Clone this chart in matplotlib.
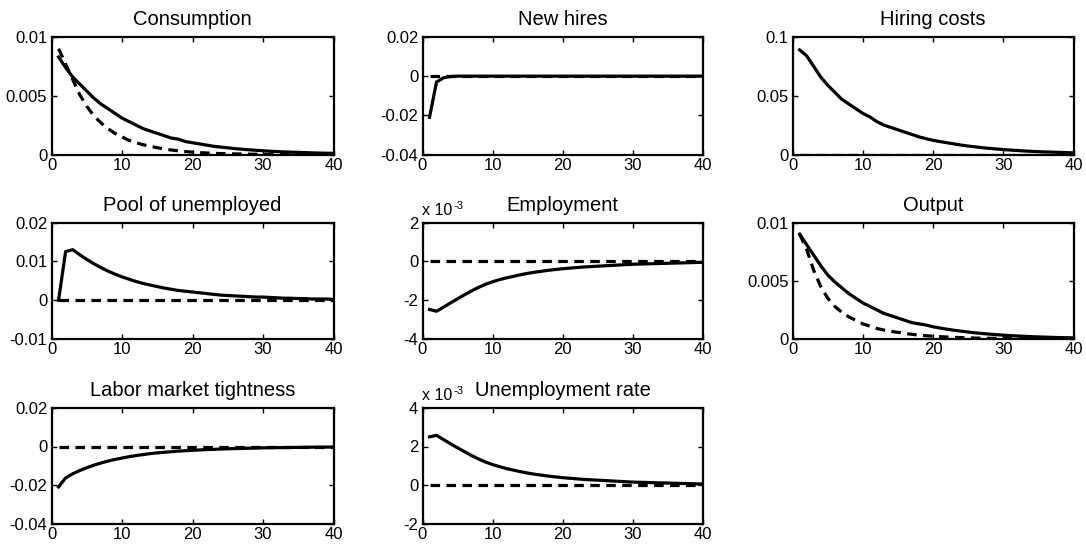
import numpy as np
import matplotlib
matplotlib.use("Agg")
import matplotlib.pyplot as plt

plt.rcParams['font.family'] = ['Liberation Sans', 'DejaVu Sans']
plt.rcParams['axes.unicode_minus'] = False
plt.rcParams['mathtext.default'] = 'regular'

periods = list(range(1, 41))

titles = ["Consumption", "New hires", "Hiring costs",
          "Pool of unemployed", "Employment", "Output",
          "Labor market tightness", "Unemployment rate"]

consumption_solid = [0.0083, 0.0074, 0.0066, 0.0060, 0.0054, 0.0048, 0.0043, 0.0039, 0.0035, 0.0031,
                     0.0028, 0.0025, 0.0022, 0.0020, 0.0018, 0.0016, 0.0014, 0.0013, 0.0011, 0.0010,
                     0.0009, 0.0008, 0.0007, 0.00063, 0.00057, 0.0005, 0.00045, 0.0004, 0.00036, 0.00032,
                     0.00028, 0.00025, 0.00022, 0.0002, 0.00018, 0.00016, 0.00014, 0.00012, 0.00011, 0.0001]
consumption_dashed = [0.009, 0.0077, 0.0064, 0.0051, 0.0041, 0.0033, 0.0027, 0.0022, 0.0018, 0.0015,
                      0.0012, 0.001, 0.00083, 0.0007, 0.00058, 0.00047, 0.00038, 0.00031, 0.00025, 0.0002,
                      0.00016, 0.00013, 0.0001, 0.00008, 0.00006, 0.00005, 0.00004, 0.00003, 0.00002, 0.00002,
                      0.00001, 0.00001, 0.00001, 0.00001, 0.00001, 0.00001, 0.0, 0.0, 0.0, 0.0]

new_hires_solid = [-0.021, -0.003, -0.0008, -0.0002] + [0.0] * 36
new_hires_dashed = [0.0] * 40

hiring_costs_solid = [0.089, 0.084, 0.075, 0.066, 0.059, 0.053, 0.047, 0.043, 0.039, 0.035,
                      0.032, 0.028, 0.025, 0.023, 0.021, 0.019, 0.017, 0.015, 0.0135, 0.012,
                      0.011, 0.010, 0.009, 0.008, 0.0072, 0.0065, 0.0058, 0.0052, 0.0047, 0.0042,
                      0.0038, 0.0034, 0.003, 0.0027, 0.0024, 0.0022, 0.002, 0.0018, 0.0016, 0.0014]
hiring_costs_dashed = [0.0] * 40

pool_solid = [0.0, 0.0125, 0.013, 0.0117, 0.0105, 0.0094, 0.0084, 0.0075, 0.0067, 0.006,
              0.0054, 0.0048, 0.0043, 0.0039, 0.0035, 0.0031, 0.0028, 0.0025, 0.0023, 0.0021,
              0.0019, 0.0017, 0.0015, 0.0013, 0.0012, 0.0011, 0.001, 0.0009, 0.0008, 0.0008,
              0.0007, 0.0006, 0.0005, 0.0005, 0.0004, 0.0004, 0.0003, 0.0003, 0.0003, 0.0002]
pool_dashed = [0.0] * 40

employment_solid = [-2.48e-3, -2.57e-3, -2.36e-3, -2.14e-3, -1.93e-3, -1.72e-3, -1.52e-3, -1.34e-3, -1.18e-3, -1.05e-3,
                    -0.94e-3, -0.85e-3, -0.77e-3, -0.69e-3, -0.62e-3, -0.56e-3, -0.51e-3, -0.46e-3, -0.42e-3, -0.38e-3,
                    -0.35e-3, -0.32e-3, -0.29e-3, -0.27e-3, -0.25e-3, -0.23e-3, -0.21e-3, -0.19e-3, -0.17e-3, -0.15e-3,
                    -0.14e-3, -0.13e-3, -0.12e-3, -0.11e-3, -0.10e-3, -0.09e-3, -0.08e-3, -0.07e-3, -0.06e-3, -0.05e-3]
employment_dashed = [0.0] * 40

output_solid = [0.009, 0.0081, 0.0072, 0.0063, 0.0055, 0.0049, 0.0044, 0.0039, 0.0035, 0.0031,
                0.0028, 0.0025, 0.0022, 0.002, 0.0018, 0.0016, 0.0014, 0.0013, 0.0012, 0.00105,
                0.00094, 0.00084, 0.00075, 0.00067, 0.0006, 0.00053, 0.00047, 0.00042, 0.00037, 0.00033,
                0.00029, 0.00026, 0.00023, 0.0002, 0.00018, 0.00016, 0.00014, 0.00012, 0.00011, 0.0001]
output_dashed = [0.009, 0.0077, 0.0059, 0.0045, 0.0035, 0.0028, 0.0023, 0.0019, 0.0016, 0.0013,
                 0.0011, 0.0009, 0.00077, 0.00066, 0.00057, 0.00048, 0.0004, 0.00034, 0.00028, 0.00024,
                 0.0002, 0.00017, 0.00014, 0.00012, 0.0001, 0.00008, 0.00007, 0.00006, 0.00005, 0.00004,
                 0.00003, 0.00003, 0.00002, 0.00002, 0.00002, 0.00001, 0.00001, 0.00001, 0.00001, 0.00001]

tightness_solid = [-0.021, -0.0163, -0.0142, -0.0125, -0.011, -0.0097, -0.0086, -0.0076, -0.0067, -0.006,
                   -0.0053, -0.0047, -0.0042, -0.0037, -0.0033, -0.003, -0.0027, -0.0024, -0.0022, -0.002,
                   -0.0018, -0.0016, -0.0015, -0.0013, -0.0012, -0.0011, -0.001, -0.0009, -0.0008, -0.0007,
                   -0.00065, -0.0006, -0.00055, -0.0005, -0.00045, -0.0004, -0.00035, -0.0003, -0.0003, -0.00025]
tightness_dashed = [0.0] * 40

unemp_rate_solid = [2.5e-3, 2.58e-3, 2.36e-3, 2.14e-3, 1.93e-3, 1.73e-3, 1.53e-3, 1.35e-3, 1.19e-3, 1.06e-3,
                    0.95e-3, 0.85e-3, 0.77e-3, 0.69e-3, 0.62e-3, 0.56e-3, 0.51e-3, 0.46e-3, 0.42e-3, 0.38e-3,
                    0.35e-3, 0.32e-3, 0.29e-3, 0.27e-3, 0.25e-3, 0.23e-3, 0.21e-3, 0.19e-3, 0.17e-3, 0.15e-3,
                    0.14e-3, 0.13e-3, 0.12e-3, 0.11e-3, 0.10e-3, 0.09e-3, 0.08e-3, 0.07e-3, 0.06e-3, 0.05e-3]
unemp_rate_dashed = [0.0] * 40

solid_series = [consumption_solid, new_hires_solid, hiring_costs_solid, pool_solid,
                employment_solid, output_solid, tightness_solid, unemp_rate_solid]
dashed_series = [consumption_dashed, new_hires_dashed, hiring_costs_dashed, pool_dashed,
                 employment_dashed, output_dashed, tightness_dashed, unemp_rate_dashed]

x_ticks = [0, 10, 20, 30, 40]
y_ticks = [[0, 0.005, 0.01], [-0.04, -0.02, 0, 0.02], [0, 0.05, 0.1],
           [-0.01, 0, 0.01, 0.02], [-4, -2, 0, 2], [0, 0.005, 0.01],
           [-0.04, -0.02, 0, 0.02], [-2, 0, 2, 4]]
scale_factors = [1, 1, 1, 1, 1e-3, 1, 1, 1e-3]

W, H = 1086, 551
fig = plt.figure(figsize=(W / 100, H / 100), dpi=100)

cols = [(51.5, 333.5), (422.5, 703.0), (792.6, 1073.5)]
rows = [(37.0, 154.5), (222.5, 339.0), (408.0, 523.5)]

for i in range(8):
    r, c = divmod(i, 3)
    x0, x1 = cols[c]
    y0, y1 = rows[r]
    ax = fig.add_axes([x0 / W, 1 - y1 / H, (x1 - x0) / W, (y1 - y0) / H])
    sf = scale_factors[i]
    ax.plot(periods, np.array(solid_series[i]) / sf, color='black', lw=2.3,
            solid_joinstyle='round')
    ax.plot(periods, np.array(dashed_series[i]) / sf, color='black', lw=2.3,
            linestyle=(0, (3, 2)))
    ax.set_xlim(0, 40)
    yt = y_ticks[i]
    ax.set_ylim(yt[0], yt[-1])
    ax.set_xticks(x_ticks)
    ax.set_yticks(yt)
    ax.set_xticklabels([f"{v:g}" for v in x_ticks])
    ax.set_yticklabels([f"{v:g}" for v in yt])
    ax.tick_params(direction='in', top=True, right=True, length=3.5, width=1.0,
                   labelsize=12, colors='black')
    ax.tick_params(axis='x', pad=2.5)
    ax.tick_params(axis='y', pad=3)
    for s in ax.spines.values():
        s.set_linewidth(1.6)
    ax.set_title(titles[i], fontsize=14.5, pad=8.5)
    if sf != 1:
        ax.text(0, 1.0 + 7.5 / (y1 - y0), 'x 10', transform=ax.transAxes,
                ha='left', va='baseline', fontsize=11.5)
        ax.text(31.0 / (x1 - x0), 1.0 + 14.0 / (y1 - y0), '-3', transform=ax.transAxes,
                ha='left', va='baseline', fontsize=8)

fig.savefig('out.png', dpi=100)
